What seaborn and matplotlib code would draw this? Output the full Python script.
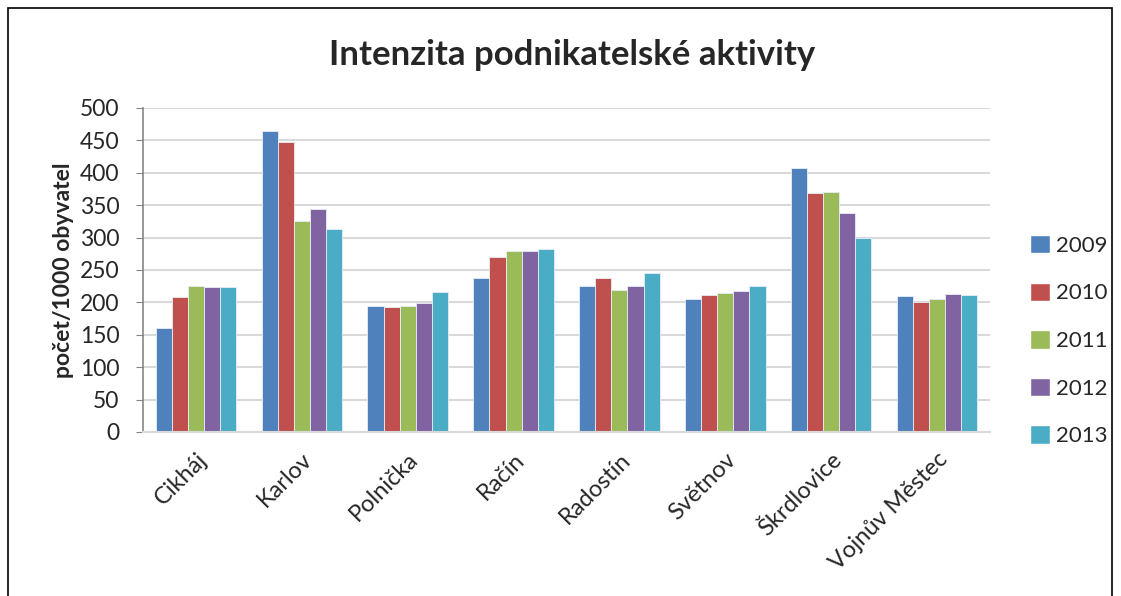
import numpy as np, pandas as pd
import matplotlib; matplotlib.use("Agg")
import matplotlib.pyplot as plt
import seaborn as sns
from matplotlib.patches import Rectangle, Patch

villages = ["Cikháj", "Karlov", "Polnička", "Račín", "Radostín", "Světnov", "Škrdlovice", "Vojnův Městec"]
years = ["2009", "2010", "2011", "2012", "2013"]
v2009 = [161, 464, 194, 237, 225, 206, 408, 210]
v2010 = [209, 447, 193, 270, 237, 211, 369, 201]
v2011 = [226, 326, 195, 279, 219, 215, 371, 206]
v2012 = [224, 344, 199, 279, 226, 217, 338, 213]
v2013 = [224, 314, 216, 282, 246, 225, 299, 211]
colors = ["#4f81bd", "#c0504d", "#9bbb59", "#8064a2", "#4bacc6"]

df = pd.DataFrame({"obec": villages * 5,
                   "rok": np.repeat(years, len(villages)),
                   "hodnota": v2009 + v2010 + v2011 + v2012 + v2013})

sns.set_style("white")
plt.rcParams["font.family"] = ["Lato", "DejaVu Sans"]

fig = plt.figure(figsize=(11.21, 5.96), dpi=100)
ax = fig.add_axes([143/1121, 1 - 432/596, (990-143)/1121, (432-108)/596])
sns.barplot(data=df, x="obec", y="hodnota", hue="rok", palette=colors, width=0.76,
            saturation=1, edgecolor="#e8eef7", linewidth=0.6, ax=ax, legend=False)

ax.set_ylim(0, 500); ax.set_xlim(-0.5, 7.5)
ax.set_yticks(np.arange(0, 501, 50))
ax.yaxis.grid(True, color="#d9d9d9", lw=1.5); ax.set_axisbelow(True)
for s in ["top", "right"]: ax.spines[s].set_visible(False)
ax.spines["left"].set_color("#868686"); ax.spines["left"].set_linewidth(1.2)
ax.spines["bottom"].set_color("#d9d9d9"); ax.spines["bottom"].set_linewidth(1.5)
ax.tick_params(axis="y", length=5, color="#868686", labelsize=16.5, pad=12, left=True, direction="out")
ax.tick_params(axis="x", length=0, labelsize=17, pad=12)
plt.setp(ax.get_xticklabels(), rotation=45, ha="right", rotation_mode="anchor")
ax.set_xlabel("")
ax.set_ylabel("počet/1000 obyvatel", fontsize=16.5, fontweight="bold", labelpad=4)

fig.text(572/1121, 1 - 55/596, "Intenzita podnikatelské aktivity", ha="center", va="center",
         fontsize=25, fontweight="bold")

handles = [Patch(facecolor=c) for c in colors]
fig.legend(handles, years, loc="upper left", bbox_to_anchor=(1030/1121, 1 - 235/596),
           frameon=False, fontsize=16, handlelength=0.9, handleheight=0.9,
           handletextpad=0.25, labelspacing=1.2, borderaxespad=0, borderpad=0)

fig.patches.append(Rectangle((8/1121, -0.1), (1112-8)/1121, 1.1 - 8/596, transform=fig.transFigure,
                             fill=False, edgecolor="black", lw=1.2))
fig.savefig("out.png", dpi=100)
